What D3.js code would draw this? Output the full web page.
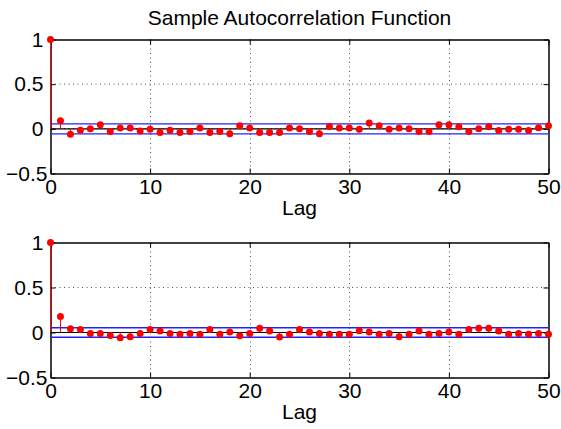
<!DOCTYPE html>
<html>
<head>
<meta charset="utf-8">
<script src="https://cdn.jsdelivr.net/npm/d3@7"></script>
<style>
  html, body { margin: 0; padding: 0; background: #fff; }
  svg { display: block; }
  text { font-family: "Liberation Sans", Arial, Helvetica, sans-serif; fill: #000; }
</style>
</head>
<body>
<svg id="chart" width="561" height="429"></svg>
<script>
// ---- data ----
const lags = [0,1,2,3,4,5,6,7,8,9,10,11,12,13,14,15,16,17,18,19,20,21,22,23,24,25,
              26,27,28,29,30,31,32,33,34,35,36,37,38,39,40,41,42,43,44,45,46,47,48,49,50];
const acfTop = [1, 0.09, -0.06, -0.015, 0.0, 0.045, -0.03, 0.01, 0.01, -0.025, -0.005,
                -0.04, -0.015, -0.04, -0.03, 0.01, -0.04, -0.03, -0.055, 0.035, 0.01,
                -0.04, -0.04, -0.04, 0.01, 0.0, -0.03, -0.055, 0.025, 0.01, 0.01,
                -0.005, 0.065, 0.035, -0.005, 0.01, 0.0, -0.03, -0.03, 0.045, 0.045,
                0.022, -0.03, 0.0, 0.022, -0.02, -0.005, -0.005, -0.02, 0.012, 0.035];
const acfBottom = [1, 0.177, 0.043, 0.032, -0.01, -0.01, -0.032, -0.058, -0.047, -0.01, 0.032,
                   0.017, -0.01, -0.02, -0.01, -0.02, 0.032, -0.02, 0.005, -0.035, -0.01,
                   0.047, 0.017, -0.05, -0.02, 0.032, 0.005, -0.01, -0.02, -0.02, -0.02,
                   0.02, 0.005, -0.02, -0.01, -0.047, -0.02, 0.017, -0.02, -0.01, 0.005,
                   -0.02, 0.032, 0.047, 0.047, 0.017, -0.02, -0.01, -0.02, -0.01, -0.02];
const boundTop = [0.056, -0.056];
const boundBottom = [0.053, -0.053];
const xTicks = [0, 10, 20, 30, 40, 50];
const yTicks = [-0.5, 0, 0.5, 1];
const yTickLabels = ["\u22120.5", "0", "0.5", "1"];
const titleText = "Sample Autocorrelation Function";
const xLabelText = "Lag";

// ---- drawing ----
const svg = d3.select("#chart");
const FS = 21;
const left = 50.5, right = 548.5;

const panels = [
  { values: acfTop, bounds: boundTop, top: 39.5, bottom: 173.5, title: true },
  { values: acfBottom, bounds: boundBottom, top: 242.5, bottom: 377.5, title: false }
];

panels.forEach(p => {
  const x = d3.scaleLinear().domain([0, 50]).range([left, right]);
  const y = d3.scaleLinear().domain([-0.5, 1]).range([p.bottom, p.top]);
  const g = svg.append("g");

  // grid (dotted)
  g.append("g").selectAll("line.gx")
    .data(xTicks.filter(t => t > 0 && t < 50))
    .join("line")
    .attr("x1", d => Math.round(x(d)) + 0.5).attr("x2", d => Math.round(x(d)) + 0.5)
    .attr("y1", p.top).attr("y2", p.bottom)
    .attr("stroke", "#555").attr("stroke-width", 1).attr("stroke-dasharray", "1,3.5");
  g.append("g").selectAll("line.gy")
    .data(yTicks.filter(t => t > -0.5 && t < 1))
    .join("line")
    .attr("x1", left).attr("x2", right)
    .attr("y1", d => y(d)).attr("y2", d => y(d))
    .attr("stroke", "#555").attr("stroke-width", 1).attr("stroke-dasharray", "1,3.5");

  // axes
  const fmtY = d => yTickLabels[yTicks.indexOf(d)];
  const axB = g.append("g").attr("transform", `translate(0,${p.bottom})`)
    .call(d3.axisBottom(x).tickValues(xTicks).tickSizeInner(-5).tickSizeOuter(0).tickPadding(6));
  const axT = g.append("g").attr("transform", `translate(0,${p.top})`)
    .call(d3.axisTop(x).tickValues(xTicks).tickSizeInner(-5).tickSizeOuter(0).tickFormat(""));
  const axL = g.append("g").attr("transform", `translate(${left},0)`)
    .call(d3.axisLeft(y).tickValues(yTicks).tickSizeInner(-5).tickSizeOuter(0).tickPadding(7).tickFormat(fmtY));
  const axR = g.append("g").attr("transform", `translate(${right},0)`)
    .call(d3.axisRight(y).tickValues(yTicks).tickSizeInner(-5).tickSizeOuter(0).tickFormat(""));
  [axB, axT, axL, axR].forEach(a => {
    a.select(".domain").attr("stroke", "#000").attr("stroke-width", 1.5);
    a.selectAll(".tick line").attr("stroke", "#000").attr("stroke-width", 1);
    a.selectAll("text").attr("font-size", FS).attr("font-family", null).attr("fill", "#000");
  });
  axL.selectAll(".tick text").filter(d => d < 0).attr("dx", 4);

  // x label
  g.append("text").attr("x", (left + right) / 2).attr("y", p.bottom + 41)
    .attr("text-anchor", "middle").attr("font-size", FS).text(xLabelText);

  if (p.title) {
    g.append("text").attr("x", (left + right) / 2).attr("y", 25)
      .attr("text-anchor", "middle").attr("font-size", FS).text(titleText);
  }

  // zero line
  g.append("line").attr("x1", x(0)).attr("x2", x(50)).attr("y1", y(0)).attr("y2", y(0))
    .attr("stroke", "#000").attr("stroke-width", 1.2);
  // confidence bounds
  g.append("g").selectAll("line")
    .data(p.bounds).join("line")
    .attr("x1", x(0)).attr("x2", x(50)).attr("y1", d => y(d)).attr("y2", d => y(d))
    .attr("stroke", "#2020ff").attr("stroke-width", 1.3);

  // stems
  const pts = lags.map((l, i) => ({ lag: l, v: p.values[i] }));
  g.append("g").selectAll("line")
    .data(pts).join("line")
    .attr("x1", d => x(d.lag)).attr("x2", d => x(d.lag))
    .attr("y1", y(0)).attr("y2", d => y(d.v))
    .attr("stroke", "#ff0000").attr("stroke-width", 1);
  g.append("g").selectAll("circle")
    .data(pts).join("circle")
    .attr("cx", d => x(d.lag)).attr("cy", d => y(d.v)).attr("r", 3.5)
    .attr("fill", "#ff0000");
});
</script>
</body>
</html>
